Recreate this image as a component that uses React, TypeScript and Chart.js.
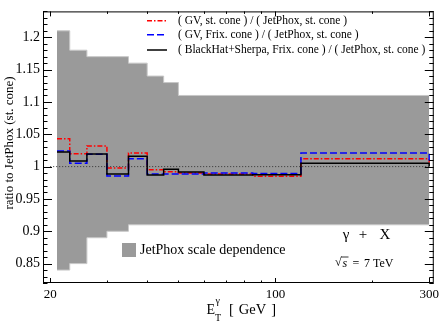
import React, { useEffect, useRef } from 'react';
import { Chart, registerables } from 'chart.js';

Chart.register(...registerables);

// ---- data ----
const binEdges = [21, 23, 26, 30, 35, 40, 45, 50, 60, 85, 120, 300];
const gvStCone = [1.043, 1.02, 1.032, 0.998, 1.021, 0.995, 0.992, 0.99, 0.9885, 0.985, 1.012];
const gvFrixCone = [1.024, 1.005, 1.019, 0.9855, 1.012, 0.9885, 0.9885, 0.9885, 0.99, 0.9895, 1.021];
const blackHatFrix = [1.0225, 1.0085, 1.0195, 0.9885, 1.016, 0.987, 0.996, 0.9915, 0.987, 0.9875, 1.005];
const endValues = [1.006, 1.006, 1.0]; // red, blue, black value at the right edge drop

const bandEdges = [21, 23, 26, 30, 35, 40, 45, 50, 300];
const bandUpper = [1.21, 1.18, 1.17, 1.17, 1.16, 1.14, 1.13, 1.11];
const bandLower = [0.84, 0.85, 0.89, 0.9, 0.91, 0.91, 0.91, 0.91];

const referenceLine = [20, 300];

const xLabelTicks = [20, 100, 300];
const xMinorTicks = [30, 40, 50, 60, 70, 80, 90, 200];
const yLabelTicks = [0.85, 0.9, 0.95, 1, 1.05, 1.1, 1.15, 1.2];
const yMinorStep = 0.01;

const legendLabels = [
  '( GV, st. cone ) / ( JetPhox, st. cone )',
  '( GV, Frix. cone ) / ( JetPhox, st. cone )',
  '( BlackHat+Sherpa, Frix. cone ) / ( JetPhox, st. cone )',
];
const bandLabel = 'JetPhox scale dependence';
const yTitle = 'ratio to JetPhox (st. cone)';

const SERIF = "'Liberation Serif', 'DejaVu Serif', serif";

const RED_DASH = [5, 2, 1.5, 2];
const BLUE_DASH = [7, 3];

function steps(edges: number[], vals: number[], endDrop?: number) {
  const pts = vals.map((v, i) => ({ x: edges[i], y: v }));
  pts.push({ x: edges[edges.length - 1], y: vals[vals.length - 1] });
  if (endDrop !== undefined) pts.push({ x: edges[edges.length - 1], y: endDrop });
  return pts;
}

const decor = {
  id: 'decor',
  afterDatasetsDraw(chart: any) {
    const { ctx, chartArea: a, scales } = chart;
    const xs = scales.x;
    const ys = scales.y;
    ctx.save();
    ctx.strokeStyle = '#000';
    ctx.lineWidth = 1;
    ctx.setLineDash([]);
    const seg = (x1: number, y1: number, x2: number, y2: number) => {
      ctx.beginPath();
      ctx.moveTo(x1, y1);
      ctx.lineTo(x2, y2);
      ctx.stroke();
    };
    // frame
    ctx.strokeRect(a.left + 0.5, a.top + 0.5, a.right - a.left - 1, a.bottom - a.top - 1);
    // y ticks (inward, both sides)
    const yMin = ys.min, yMax = ys.max;
    const nMinor = Math.round((yMax - yMin) / yMinorStep);
    for (let k = 0; k <= nMinor; k++) {
      const v = yMin + k * yMinorStep;
      const py = Math.round(ys.getPixelForValue(v)) + 0.5;
      const major = yLabelTicks.some((t) => Math.abs(t - v) < 1e-6);
      const len = major ? 9 : 4.5;
      seg(a.left, py, a.left + len, py);
      seg(a.right, py, a.right - len, py);
    }
    // x ticks (inward, top and bottom)
    const drawX = (v: number, len: number) => {
      const px = Math.round(xs.getPixelForValue(v)) + 0.5;
      seg(px, a.bottom, px, a.bottom - len);
      seg(px, a.top, px, a.top + len);
    };
    xLabelTicks.forEach((v) => drawX(v, 5));
    xMinorTicks.forEach((v) => drawX(v, 2.5));

    // legend lines
    const legY = [20.7, 34.7, 50];
    const legStyle = [
      { c: '#ff0000', d: RED_DASH },
      { c: '#0000ff', d: BLUE_DASH },
      { c: '#000000', d: [] as number[] },
    ];
    ctx.lineWidth = 1.5;
    legY.forEach((yy, i) => {
      ctx.strokeStyle = legStyle[i].c;
      ctx.setLineDash(legStyle[i].d);
      seg(147, yy, 167, yy);
    });
    ctx.setLineDash([]);
    ctx.fillStyle = '#000';
    ctx.font = `11.5px ${SERIF}`;
    ctx.textBaseline = 'middle';
    ctx.textAlign = 'left';
    legY.forEach((yy, i) => ctx.fillText(legendLabels[i], 178, yy));

    // band legend
    ctx.fillStyle = '#9a9a9a';
    ctx.fillRect(122, 243, 14, 14);
    ctx.fillStyle = '#000';
    ctx.font = `14px ${SERIF}`;
    ctx.fillText(bandLabel, 140, 250.5);

    // gamma + X
    ctx.font = `15px ${SERIF}`;
    ctx.textAlign = 'center';
    ctx.fillText('γ', 346, 235);
    ctx.fillText('+', 363, 235);
    ctx.fillText('X', 385, 235);

    // sqrt(s) = 7 TeV
    ctx.font = `12px ${SERIF}`;
    ctx.textAlign = 'left';
    ctx.fillText('√', 335, 263);
    ctx.font = `italic 12px ${SERIF}`;
    ctx.fillText('s', 342.5, 263.5);
    ctx.lineWidth = 0.8;
    seg(341, 257, 348.5, 257);
    ctx.font = `12px ${SERIF}`;
    ctx.fillText('=', 352.5, 263.5);
    ctx.fillText('7 TeV', 364, 263.5);

    // x title
    ctx.font = `14px ${SERIF}`;
    ctx.fillText('E', 206.5, 310);
    ctx.font = `10px ${SERIF}`;
    ctx.fillText('γ', 215.5, 301);
    ctx.fillText('T', 215, 318);
    ctx.font = `14.5px ${SERIF}`;
    ctx.fillText('[', 229, 310);
    ctx.textAlign = 'center';
    ctx.fillText('GeV', 252.5, 310);
    ctx.textAlign = 'right';
    ctx.fillText(']', 276, 310);

    // y title
    ctx.save();
    ctx.translate(9.5, 143);
    ctx.rotate(-Math.PI / 2);
    ctx.textAlign = 'center';
    ctx.font = `13px ${SERIF}`;
    ctx.fillText(yTitle, 0, 0);
    ctx.restore();

    ctx.restore();
  },
};

export default function App() {
  const ref = useRef<HTMLCanvasElement | null>(null);
  useEffect(() => {
    if (!ref.current) return;
    Chart.defaults.font.family = SERIF;
    const chart = new Chart(ref.current, {
      type: 'line',
      data: {
        datasets: [
          {
            label: 'BlackHat',
            data: steps(binEdges, blackHatFrix, endValues[2]),
            borderColor: '#000000',
            borderWidth: 1.5,
            stepped: true,
            pointRadius: 0,
            fill: false,
            order: 1,
          },
          {
            label: 'GV Frix',
            data: steps(binEdges, gvFrixCone, endValues[1]),
            borderColor: '#0000ff',
            borderWidth: 1.5,
            borderDash: BLUE_DASH,
            stepped: true,
            pointRadius: 0,
            fill: false,
            order: 2,
          },
          {
            label: 'GV st',
            data: steps(binEdges, gvStCone, endValues[0]),
            borderColor: '#ff0000',
            borderWidth: 1.5,
            borderDash: RED_DASH,
            stepped: true,
            pointRadius: 0,
            fill: false,
            order: 3,
          },
          {
            label: 'ref',
            data: referenceLine.map((x) => ({ x, y: 1 })),
            borderColor: '#333333',
            borderWidth: 1,
            borderDash: [1, 2],
            pointRadius: 0,
            fill: false,
            order: 4,
          },
          {
            label: 'band lower',
            data: steps(bandEdges, bandLower),
            borderColor: '#c8c8c8',
            borderWidth: 1,
            stepped: true,
            pointRadius: 0,
            fill: false,
            order: 10,
          },
          {
            label: 'band upper',
            data: steps(bandEdges, bandUpper),
            borderColor: '#c8c8c8',
            borderWidth: 1,
            backgroundColor: '#9a9a9a',
            stepped: true,
            pointRadius: 0,
            fill: '-1',
            order: 10,
          },
        ],
      },
      options: {
        responsive: false,
        animation: false,
        layout: { padding: { top: 2, right: 6, left: 0, bottom: 0 } },
        plugins: { legend: { display: false }, tooltip: { enabled: false } },
        scales: {
          x: {
            type: 'logarithmic',
            min: 19,
            max: 310,
            grid: { display: false, drawTicks: false },
            border: { display: false },
            afterBuildTicks: (s: any) => {
              s.ticks = xLabelTicks.map((v) => ({ value: v }));
            },
            afterFit: (s: any) => {
              s.height = 40;
            },
            ticks: {
              autoSkip: false,
              maxRotation: 0,
              padding: 4,
              color: '#000',
              font: { family: SERIF, size: 13 },
              callback: (v: any) => String(v),
            },
          },
          y: {
            type: 'linear',
            min: 0.82,
            max: 1.24,
            grid: { display: false, drawTicks: false },
            border: { display: false },
            afterBuildTicks: (s: any) => {
              s.ticks = yLabelTicks.map((v) => ({ value: v }));
            },
            afterFit: (s: any) => {
              s.width = 43;
            },
            ticks: {
              autoSkip: false,
              padding: 3,
              color: '#000',
              font: { family: SERIF, size: 14 },
              callback: (v: any) => String(parseFloat(Number(v).toFixed(2))),
            },
          },
        },
      },
      plugins: [decor],
    } as any);
    return () => chart.destroy();
  }, []);
  return (
    <div style={{ position: 'absolute', left: 0, top: 0, width: 443, height: 323, background: '#fff' }}>
      <canvas ref={ref} width={443} height={323} style={{ display: 'block' }} />
    </div>
  );
}
